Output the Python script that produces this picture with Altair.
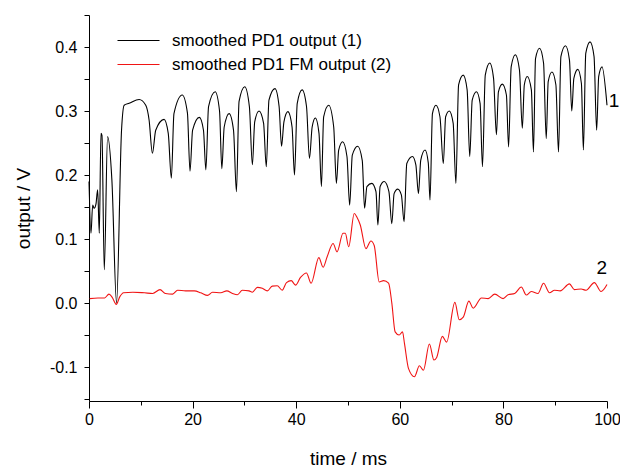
import altair as alt
import pandas as pd

# ---- data ----
series_names = ["smoothed PD1 output (1)", "smoothed PD1 FM output (2)"]
series_colors = ["#000000", "#f01414"]

black_t = [0.0, 0.38, 0.71, 1.0, 1.35, 1.67, 1.99, 2.31, 2.5, 2.95, 3.59, 4.42, 5.32,
           6.28, 6.79, 7.75, 9.68, 10.96, 11.6, 12.24, 12.88, 14.49, 15.3, 15.9,
           16.4, 18.0, 19.0, 19.5, 20.0, 21.3, 22.1, 22.56, 23.08, 24.36, 25.2, 25.64,
           26.1, 27.05, 27.9, 28.46, 28.97, 30.06, 30.96, 31.54, 31.99, 32.82, 33.7, 34.23,
           34.74, 35.9, 36.7, 37.17, 37.63, 38.4, 39.2, 39.67, 40.2, 41.15, 41.99, 42.56,
           43.08, 43.7, 44.4, 44.87, 45.3, 46.28, 47.24, 47.76, 48.2, 48.97, 49.8, 50.32,
           50.83, 51.87, 52.75, 53.2, 53.65, 54.6, 55.4, 55.77, 56.2, 56.99, 57.9, 58.46,
           58.9, 59.6, 60.3, 60.83, 61.35, 62.44, 63.1, 63.6, 64.04, 64.87, 65.5, 65.83,
           66.3, 66.98, 67.75, 68.4, 68.85, 69.55, 70.3, 70.83, 71.35, 72.25, 73.0, 73.5,
           73.98, 74.8, 75.5, 75.96, 76.5, 77.37, 78.1, 78.65, 79.04, 79.8, 80.58, 81.0,
           81.5, 82.3, 83.1, 83.65, 84.04, 84.6, 85.4, 85.8, 86.2, 86.98, 87.75, 88.27,
           88.65, 89.37, 90.13, 90.64, 91.1, 91.98, 92.75, 93.2, 93.6, 94.37, 95.06, 95.44,
           95.9, 96.73, 97.5, 98.0, 98.4, 99.04, 100.0]
black_v = [0.19, 0.109, 0.153, 0.148, 0.155, 0.177, 0.109, 0.265, 0.262, 0.052, 0.26, 0.192, 0.0,
           0.27, 0.309, 0.312, 0.318, 0.309, 0.286, 0.234, 0.27, 0.287, 0.265, 0.195,
           0.296, 0.325, 0.297, 0.206, 0.27, 0.29, 0.27, 0.208, 0.307, 0.33, 0.30, 0.21,
           0.275, 0.296, 0.27, 0.174, 0.315, 0.338, 0.307, 0.216, 0.283, 0.30, 0.281, 0.213,
           0.317, 0.335, 0.307, 0.245, 0.283, 0.299, 0.275, 0.20, 0.312, 0.333, 0.307, 0.226,
           0.275, 0.289, 0.265, 0.182, 0.291, 0.309, 0.275, 0.187, 0.239, 0.252, 0.229, 0.153,
           0.231, 0.245, 0.223, 0.148, 0.182, 0.187, 0.174, 0.122, 0.182, 0.19, 0.174, 0.124,
           0.171, 0.178, 0.169, 0.127, 0.218, 0.229, 0.216, 0.171, 0.223, 0.239, 0.219, 0.161,
           0.296, 0.309, 0.291, 0.218, 0.291, 0.30, 0.281, 0.187, 0.341, 0.356, 0.333, 0.229,
           0.317, 0.33, 0.312, 0.213, 0.356, 0.375, 0.351, 0.263, 0.33, 0.342, 0.325, 0.244,
           0.369, 0.388, 0.364, 0.273, 0.341, 0.354, 0.333, 0.236, 0.382, 0.398, 0.375, 0.257,
           0.346, 0.361, 0.341, 0.236, 0.385, 0.402, 0.38, 0.30, 0.351, 0.365, 0.343, 0.239,
           0.39, 0.408, 0.385, 0.27, 0.354, 0.369, 0.309]

red_t = [0.13, 1.73, 3.02, 3.85, 4.48, 5.25, 5.96, 6.67, 8.46, 10.71, 12.3, 13.71, 14.75,
         16.15, 17.1, 18.65, 20.33, 21.6, 22.88, 23.85, 25.44, 26.6, 27.7, 28.65, 29.6,
         30.9, 31.54, 32.5, 33.46, 34.42, 35.38, 36.35, 37.3, 38.13, 39.04, 39.87, 40.83,
         41.98, 42.88, 44.37, 45.19, 45.96, 47.12, 47.88, 49.04, 49.48, 50.13, 51.21, 51.73,
         52.37, 53.46, 54.42, 55.06, 56.02, 56.87, 57.83, 58.46, 59.1, 59.87, 60.52, 60.9,
         61.67, 62.83, 63.79, 64.56, 65.71, 66.6, 67.12, 68.21, 69.04, 70.63, 71.48, 72.25,
         73.33, 74.17, 75.77, 77.06, 78.33, 79.94, 80.9, 82.17, 83.46, 84.42, 85.38, 86.67,
         87.75, 88.9, 89.87, 90.96, 92.75, 93.71, 95.0, 95.96, 97.56, 98.85, 100.0]
red_v = [0.007, 0.008, 0.008, 0.014, 0.009, -0.002, 0.01, 0.016, 0.017, 0.016, 0.015, 0.021, 0.015,
         0.014, 0.02, 0.019, 0.019, 0.016, 0.012, 0.017, 0.016, 0.019, 0.015, 0.013, 0.02,
         0.019, 0.017, 0.0245, 0.023, 0.019, 0.0265, 0.027, 0.02, 0.032, 0.035, 0.028, 0.04,
         0.047, 0.031, 0.071, 0.056, 0.072, 0.093, 0.08, 0.109, 0.109, 0.088, 0.14, 0.134,
         0.122, 0.085, 0.097, 0.09, 0.033, 0.035, 0.031, 0.0, -0.045, -0.05, -0.045, -0.063,
         -0.102, -0.115, -0.098, -0.105, -0.064, -0.089, -0.085, -0.052, -0.061, 0.001, -0.026, -0.022,
         0.003, -0.008, 0.008, 0.007, 0.014, 0.007, 0.013, 0.015, 0.025, 0.0125, 0.018, 0.015,
         0.031, 0.016, 0.02, 0.019, 0.03, 0.021, 0.022, 0.02, 0.032, 0.018, 0.029]

end_labels = ["1", "2"]
end_label_t = [101.35, 99.0]
end_label_v = [0.316, 0.055]

x_ticks = [0, 10, 20, 30, 40, 50, 60, 70, 80, 90, 100]
y_ticks = [-0.15, -0.1, -0.05, 0.0, 0.05, 0.1, 0.15, 0.2, 0.25, 0.3, 0.35, 0.4, 0.45]

# ---- tables ----
df = pd.concat([
    pd.DataFrame({"t": black_t, "v": black_v, "series": series_names[0]}),
    pd.DataFrame({"t": red_t, "v": red_v, "series": series_names[1]}),
], ignore_index=True)
lab_df = pd.DataFrame({"t": end_label_t, "v": end_label_v, "label": end_labels})

FONT = "Liberation Sans"

x_scale = alt.Scale(domain=[0, 100], nice=False, zero=False)
y_scale = alt.Scale(domain=[-0.153, 0.45], nice=False, zero=False)

x_axis = alt.Axis(
    title="time / ms", values=x_ticks,
    labelExpr="datum.value % 20 === 0 ? datum.label : ''",
    tickSize={"condition": {"test": "datum.value % 20 === 0", "value": 7}, "value": 4},
    labelFontSize=16, titleFontSize=19, labelPadding=3, titlePadding=22,
    labelFlush=False, labelOverlap=False, grid=False,
)
y_axis = alt.Axis(
    title="output / V", values=y_ticks,
    labelExpr="abs(datum.value * 10 - round(datum.value * 10)) < 0.001 ? replace(format(datum.value, '.1f'), '−', '-') : ''",
    tickSize=5, labelFontSize=16, titleFontSize=19, labelPadding=7, titlePadding=16,
    labelFlush=False, labelOverlap=False, grid=False,
)

lines = alt.Chart(df).mark_line(interpolate="monotone", strokeWidth=1.1).encode(
    x=alt.X("t:Q", scale=x_scale, axis=x_axis),
    y=alt.Y("v:Q", scale=y_scale, axis=y_axis),
    color=alt.Color(
        "series:N",
        scale=alt.Scale(domain=series_names, range=series_colors),
        legend=alt.Legend(
            title=None, orient="none", legendX=41, legendY=17, padding=0,
            symbolType="M-3,0H3", symbolSize=196, symbolStrokeWidth=1.1,
            labelOffset=25, labelFontSize=17, labelFont=FONT, labelColor="black",
            labelLimit=400, rowPadding=6,
        ),
    ),
)

labels = alt.Chart(lab_df).mark_text(fontSize=19, font=FONT, color="black",
                                     align="center", baseline="middle").encode(
    x=alt.X("t:Q", scale=x_scale, axis=x_axis),
    y=alt.Y("v:Q", scale=y_scale, axis=y_axis),
    text="label:N",
)

chart = alt.layer(lines, labels).properties(
    width=518, height=386,
    autosize=alt.AutoSizeParams(type="none"),
    padding={"left": 81, "top": 7, "right": 13, "bottom": 70},
    background="white",
).configure_axis(
    labelFont=FONT, titleFont=FONT, labelColor="black", titleColor="black",
    titleFontWeight="normal", domainColor="black", tickColor="black",
    domainWidth=1, tickWidth=1,
).configure_view(stroke=None)

chart.save("out.html", embed_options={"renderer": "svg", "actions": False})
